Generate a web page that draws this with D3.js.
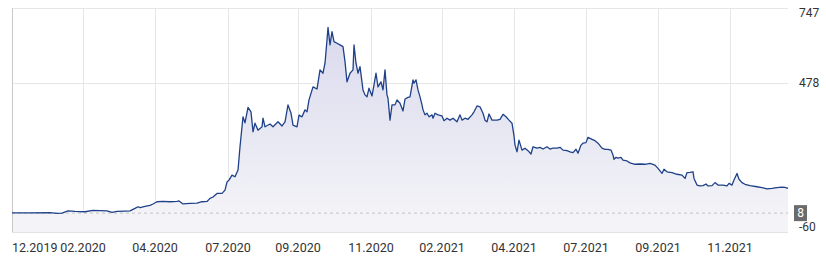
<!DOCTYPE html>
<html>
<head>
<meta charset="utf-8">
<script src="https://cdn.jsdelivr.net/npm/d3@7"></script>
<style>
  body { margin: 0; background: #fff; }
  svg { display: block; font-family: Roboto, "Noto Sans", sans-serif; }
</style>
</head>
<body>
<div id="chart"></div>
<script>
// trading-day index -> closing price
const series = [
  [0,9],[18,9],[38,10],[45,7],[50,8],[56,16],[63,14],[73,13],[81,18],[88,17],[95,16],[100,11],
  [105,14],[113,15],[118,16],[123,25],[126,31],[128,28],[133,32],[138,36],[141,41],[145,49],
  [151,50],[158,49],[165,50],[167,52],[171,41],[178,43],[185,44],[190,49],[195,50],[198,61],
  [201,66],[205,79],[210,79],[213,91],[215,120],[217,127],[220,145],[223,139],[226,163],
  [228,247],[230,319],[231,355],[233,333],[236,389],[239,373],[241,301],[243,332],[246,307],
  [250,319],[251,350],[253,319],[258,329],[261,319],[266,337],[270,322],[273,337],[276,398],
  [279,368],[281,325],[285,319],[287,361],[290,355],[293,380],[295,373],[297,416],[301,463],
  [305,455],[308,524],[311,512],[313,548],[315,632],[316,677],[318,614],[320,662],[322,626],
  [325,620],[328,614],[331,608],[333,554],[335,481],[338,512],[341,524],[342,614],[344,548],
  [346,512],[348,536],[351,452],[353,434],[355,427],[357,458],[360,430],[362,470],[364,512],
  [366,463],[369,481],[371,452],[373,524],[375,434],[376,422],[378,343],[380,398],[383,398],
  [385,416],[388,404],[391,376],[393,419],[396,425],[398,427],[401,488],[402,476],[404,488],
  [406,452],[408,427],[410,398],[411,380],[413,362],[415,368],[417,355],[420,362],[421,350],
  [423,368],[426,362],[430,358],[432,341],[435,350],[438,343],[441,350],[445,337],[448,362],
  [450,343],[453,350],[456,346],[460,362],[462,373],[465,394],[468,391],[471,368],[473,343],
  [475,337],[477,365],[480,343],[485,343],[488,346],[491,364],[494,355],[497,343],[500,332],
  [502,286],[503,253],[505,229],[507,271],[510,235],[513,242],[516,233],[519,221],[521,247],
  [525,242],[528,245],[531,239],[535,247],[538,239],[541,242],[545,242],[548,245],[551,235],
  [555,233],[558,229],[561,226],[564,238],[566,224],[569,253],[571,260],[574,262],[576,281],
  [580,274],[583,269],[586,260],[590,242],[593,238],[596,238],[599,235],[601,217],[602,202],
  [604,209],[606,206],[609,209],[611,199],[615,196],[618,189],[623,184],[628,185],[633,184],
  [638,187],[643,181],[646,169],[650,151],[652,166],[655,157],[660,154],[665,148],[670,145],
  [673,133],[675,154],[678,155],[681,157],[682,133],[685,109],[688,106],[691,107],[694,113],
  [696,106],[700,107],[703,118],[706,109],[711,109],[715,106],[717,115],[720,109],[722,127],
  [725,151],[727,130],[730,118],[733,112],[738,107],[745,103],[750,100],[755,95],[760,97],
  [765,100],[770,102],[773,101],[776,97]
];
const tickDays = [0, 71, 143, 216, 286, 359, 430, 502, 574, 646, 718];
const tickLabels = ["12.2019", "02.2020", "04.2020", "07.2020", "09.2020", "11.2020",
                    "02.2021", "04.2021", "07.2021", "09.2021", "11.2021"];
const yTicks = [-60, 478, 747];
const lastPrice = 8;
const yMin = -60, yMax = 747;

const width = 826, height = 260;
const m = { left: 12, right: 788, top: 8, bottom: 232 };

const x = d3.scaleLinear().domain([0, 776]).range([m.left, m.right]);
const y = d3.scaleLinear().domain([yMin, yMax]).range([m.bottom, m.top]);

const svg = d3.select("#chart").append("svg")
  .attr("width", width)
  .attr("height", height);

const defs = svg.append("defs");
const grad = defs.append("linearGradient")
  .attr("id", "fill")
  .attr("x1", 0).attr("y1", 0).attr("x2", 0).attr("y2", 1);
grad.append("stop").attr("offset", "0%").attr("stop-color", "#dadaee");
grad.append("stop").attr("offset", "100%").attr("stop-color", "#f5f5f8");

// grid
svg.append("g")
  .attr("stroke", "#e6e6e6")
  .attr("stroke-width", 1)
  .selectAll("line")
  .data(yTicks.filter(d => d !== yMin))
  .join("line")
  .attr("x1", m.left).attr("x2", m.right)
  .attr("y1", d => Math.round(y(d)) + 0.5)
  .attr("y2", d => Math.round(y(d)) + 0.5);

svg.append("g")
  .attr("stroke", "#e6e6e6")
  .selectAll("line")
  .data(tickDays.slice(1))
  .join("line")
  .attr("x1", d => Math.round(x(d)) + 0.5)
  .attr("x2", d => Math.round(x(d)) + 0.5)
  .attr("y1", m.top).attr("y2", m.bottom);

// area + line
const area = d3.area()
  .x(d => x(d[0]))
  .y0(m.bottom)
  .y1(d => y(d[1]));
const line = d3.line()
  .x(d => x(d[0]))
  .y(d => y(d[1]));

svg.append("path")
  .datum(series)
  .attr("fill", "url(#fill)")
  .attr("d", area);

// bottom and left axis lines
svg.append("line")
  .attr("x1", m.left).attr("x2", m.right)
  .attr("y1", m.bottom + 0.5).attr("y2", m.bottom + 0.5)
  .attr("stroke", "#e3e3e3");
svg.append("line")
  .attr("x1", m.left + 0.5).attr("x2", m.left + 0.5)
  .attr("y1", m.top).attr("y2", m.bottom)
  .attr("stroke", "#c8c8c8");

// last price dashed line
svg.append("line")
  .attr("x1", m.left).attr("x2", m.right)
  .attr("y1", y(lastPrice)).attr("y2", y(lastPrice))
  .attr("stroke", "#c4c4c4")
  .attr("stroke-dasharray", "3,3");

svg.append("path")
  .datum(series)
  .attr("fill", "none")
  .attr("stroke", "#1f4189")
  .attr("stroke-width", 1.3)
  .attr("stroke-linejoin", "round")
  .attr("d", line);

// y labels
svg.append("g")
  .selectAll("text")
  .data(yTicks)
  .join("text")
  .attr("x", 799)
  .attr("y", d => Math.min(Math.max(y(d), m.top + 5), m.bottom - 5))
  .attr("dy", "0.35em")
  .attr("fill", "#333")
  .attr("font-size", 12)
  .text(d => d);

// last price tag
const tagY = y(lastPrice);
svg.append("rect")
  .attr("x", 794).attr("y", tagY - 8)
  .attr("width", 13).attr("height", 16)
  .attr("fill", "#6b6b6b");
svg.append("text")
  .attr("x", 800.5).attr("y", tagY)
  .attr("dy", "0.35em")
  .attr("text-anchor", "middle")
  .attr("fill", "#fff")
  .attr("font-size", 12)
  .text(lastPrice);

// x labels
svg.append("g")
  .selectAll("text")
  .data(tickDays)
  .join("text")
  .attr("x", (d, i) => i === 0 ? m.left : x(d))
  .attr("y", 252)
  .attr("text-anchor", (d, i) => i === 0 ? "start" : "middle")
  .attr("fill", "#333")
  .attr("font-size", 12.5)
  .text((d, i) => tickLabels[i]);
</script>
</body>
</html>
